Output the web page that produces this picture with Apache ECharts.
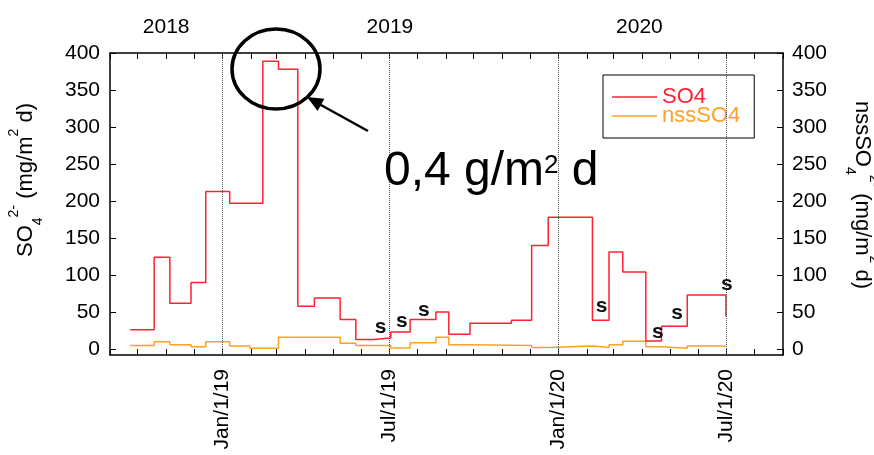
<!DOCTYPE html>
<html>
<head>
<meta charset="utf-8">
<script src="https://cdn.jsdelivr.net/npm/echarts@6/dist/echarts.min.js"></script>
<style>
  html, body { margin: 0; padding: 0; background: #fff; }
  #chart { width: 874px; height: 455px; }
</style>
</head>
<body>
<div id="chart"></div>
<script>
// Total sulphate deposition (SO4), sampling-period start dates; the last date closes the final period
const so4Dates = ['2018-09-23','2018-10-19','2018-11-05','2018-11-28','2018-12-14','2019-01-09','2019-02-14','2019-03-03','2019-03-24','2019-04-11','2019-05-09','2019-05-26','2019-06-14','2019-07-03','2019-07-24','2019-08-21','2019-09-04','2019-09-27','2019-11-11','2019-12-03','2019-12-21','2020-02-07','2020-02-25','2020-03-11','2020-04-05','2020-04-22','2020-05-20','2020-07-01'];
const so4Values = [26,124,62,90,213,197,389,378,58,69,40,13,15,23,40,50,20,35,39,140,178,39,131,104,11,31,73,44];

// Non-sea-salt sulphate (nssSO4)
const nssDates = ['2018-09-23','2018-10-19','2018-11-05','2018-11-28','2018-12-14','2019-01-09','2019-01-31','2019-03-03','2019-05-09','2019-05-26','2019-07-03','2019-07-24','2019-08-21','2019-09-04','2019-09-27','2019-12-03','2019-12-21','2020-02-07','2020-02-25','2020-03-11','2020-04-05','2020-04-22','2020-05-20','2020-07-01'];
const nssValues = [5,10,6,3,10,4,1,16,8,5,1.5,8.5,16,6,5,2,4,2,6,10.5,3,1,4,4];

// Periods flagged "s"
const sDates = ['2019-06-22','2019-07-15','2019-08-08','2020-02-17','2020-04-18','2020-05-09','2020-07-02'];
const sValues = [30,37,52,58,23,48,87];

// Axes
const axisStart = '2018-09-01';
const axisEnd = '2020-09-01';
const xLabelDates = ['2019-01-01','2019-07-01','2020-01-01','2020-07-01'];
const xLabelTexts = ['Jan/1/19','Jul/1/19','Jan/1/20','Jul/1/20'];
const yearLabelDates = ['2018-11-01','2019-07-02','2020-03-29'];
const yearLabelTexts = ['2018','2019','2020'];
const yTickValues = [0,50,100,150,200,250,300,350,400];

const FONT = "'Liberation Sans', Arial, sans-serif";
const RED = '#ff2233';
const ORANGE = '#ffa024';

const toTime = s => { const p = s.split('-').map(Number); return Date.UTC(p[0], p[1] - 1, p[2]); };

// first day of every month across the axis range
const monthTicks = [];
{
  const end = toTime(axisEnd);
  const d = new Date(toTime(axisStart));
  while (d.getTime() <= end) {
    monthTicks.push(d.getTime());
    d.setUTCMonth(d.getUTCMonth() + 1);
  }
}

const xLabelMap = new Map(xLabelDates.map((d, i) => [toTime(d), xLabelTexts[i]]));
const yearLabelMap = new Map(yearLabelDates.map((d, i) => [toTime(d), yearLabelTexts[i]]));

const axisLineStyle = { color: '#000', width: 1.5 };

// date axis kept as a linear millisecond scale so ticks can sit on month starts
const dateAxisBase = {
  type: 'value',
  min: toTime(axisStart),
  max: toTime(axisEnd),
  axisLine: { show: true, onZero: false, lineStyle: axisLineStyle },
  axisTick: { show: true, inside: true, length: 6, customValues: monthTicks, lineStyle: { color: '#000', width: 1 } },
  splitLine: { show: false }
};

const valueAxisBase = {
  type: 'value',
  min: -8,
  max: 400,
  axisLine: { show: true, onZero: false, lineStyle: axisLineStyle },
  axisTick: { show: true, inside: true, length: 6, customValues: yTickValues, lineStyle: { color: '#000', width: 1 } },
  axisLabel: { customValues: yTickValues, fontSize: 21, color: '#000', fontFamily: FONT },
  splitLine: { show: false },
  nameLocation: 'middle'
};

const chart = echarts.init(document.getElementById('chart'));

chart.setOption({
  backgroundColor: '#fff',
  animation: false,
  grid: { left: 110, right: 91, top: 53, bottom: 100, containLabel: false, outerBoundsMode: 'none' },
  legend: {
    orient: 'vertical',
    left: 603,
    top: 75,
    icon: 'rect',
    itemWidth: 45,
    itemHeight: 1.5,
    itemGap: -3,
    padding: [11, 14, 11, 9],
    borderColor: '#000',
    borderWidth: 1,
    textStyle: { fontSize: 22, fontFamily: FONT },
    data: [
      { name: 'SO4', textStyle: { color: RED } },
      { name: 'nssSO4', textStyle: { color: ORANGE } }
    ]
  },
  xAxis: [
    Object.assign({}, dateAxisBase, {
      position: 'bottom',
      axisLabel: {
        customValues: xLabelDates.map(toTime),
        rotate: 90,
        margin: 14,
        fontSize: 21,
        color: '#000',
        fontFamily: FONT,
        formatter: v => xLabelMap.get(v) || ''
      }
    }),
    Object.assign({}, dateAxisBase, {
      position: 'top',
      axisLabel: {
        customValues: yearLabelDates.map(toTime),
        margin: 15,
        fontSize: 21,
        color: '#000',
        fontFamily: FONT,
        formatter: v => yearLabelMap.get(v) || ''
      }
    })
  ],
  yAxis: [
    Object.assign({}, valueAxisBase, {
      position: 'left',
      axisLabel: Object.assign({}, valueAxisBase.axisLabel, { margin: 10 }),
      name: 'SO{sub|4}{sup|2-} (mg/m{sup|2} d)',
      nameRotate: 90,
      nameGap: 65,
      nameTextStyle: {
        fontSize: 22, lineHeight: 38, color: '#000', fontFamily: FONT, padding: [0, 0, 0, 48],
        rich: {
          sub: { fontSize: 14, lineHeight: 14, verticalAlign: 'bottom', fontFamily: FONT, color: '#000' },
          sup: { fontSize: 14, lineHeight: 14, verticalAlign: 'top', fontFamily: FONT, color: '#000' }
        }
      }
    }),
    Object.assign({}, valueAxisBase, {
      position: 'right',
      axisLabel: Object.assign({}, valueAxisBase.axisLabel, { margin: 9 }),
      name: 'nssSO{sub|4}{sup|2-} (mg/m{sup|2} d)',
      nameRotate: -90,
      nameGap: 60,
      nameTextStyle: {
        fontSize: 22, lineHeight: 38, color: '#000', fontFamily: FONT, padding: [0, 18, 0, 0],
        rich: {
          sub: { fontSize: 14, lineHeight: 14, verticalAlign: 'bottom', fontFamily: FONT, color: '#000' },
          sup: { fontSize: 14, lineHeight: 24, verticalAlign: 'top', fontFamily: FONT, color: '#000' }
        }
      }
    })
  ],
  series: [
    {
      name: 'SO4',
      type: 'line',
      step: 'end',
      xAxisIndex: 0,
      yAxisIndex: 0,
      symbol: 'none',
      showSymbol: false,
      lineStyle: { color: RED, width: 1.5 },
      itemStyle: { color: RED },
      data: so4Dates.map((d, i) => [toTime(d), so4Values[i]]),
      markLine: {
        silent: true,
        symbol: 'none',
        label: { show: false },
        lineStyle: { color: '#555', type: 'dotted', width: 1 },
        data: xLabelDates.map(d => ({ xAxis: toTime(d) }))
      },
      z: 3
    },
    {
      name: 'nssSO4',
      type: 'line',
      step: 'end',
      xAxisIndex: 0,
      yAxisIndex: 1,
      symbol: 'none',
      showSymbol: false,
      lineStyle: { color: ORANGE, width: 1.5 },
      itemStyle: { color: ORANGE },
      data: nssDates.map((d, i) => [toTime(d), nssValues[i]]),
      z: 2
    },
    {
      name: 's',
      type: 'custom',
      xAxisIndex: 0,
      yAxisIndex: 0,
      encode: { x: 0, y: 1 },
      data: sDates.map((d, i) => [toTime(d), sValues[i]]),
      renderItem: (params, api) => {
        const p = api.coord([api.value(0), api.value(1)]);
        return {
          type: 'text',
          x: p[0],
          y: p[1],
          style: {
            text: 's',
            fill: '#111',
            fontSize: 21,
            fontWeight: 'bold',
            fontFamily: FONT,
            align: 'center',
            verticalAlign: 'middle'
          }
        };
      },
      z: 5
    }
  ],
  graphic: [
    { type: 'ellipse', shape: { cx: 276, cy: 69, rx: 44, ry: 40 }, style: { fill: 'none', stroke: '#000', lineWidth: 3.5 }, z: 100 },
    { type: 'line', shape: { x1: 368, y1: 131, x2: 320, y2: 104.5 }, style: { stroke: '#000', lineWidth: 2.5 }, z: 100 },
    { type: 'polygon', shape: { points: [[307, 97], [324.4, 98.7], [317.6, 110.9]] }, style: { fill: '#000' }, z: 100 },
    {
      type: 'text',
      x: 384,
      y: 172,
      z: 100,
      style: {
        text: '{a|0,4 g/m}{s|2}{a| d}',
        align: 'left',
        verticalAlign: 'middle',
        fill: '#000',
        rich: {
          a: { fontSize: 48, lineHeight: 48, fontFamily: FONT, fill: '#000' },
          s: { fontSize: 26, lineHeight: 40, padding: [5, 0, 0, 0], verticalAlign: 'top', fontFamily: FONT, fill: '#000' }
        }
      }
    }
  ]
});
</script>
</body>
</html>
